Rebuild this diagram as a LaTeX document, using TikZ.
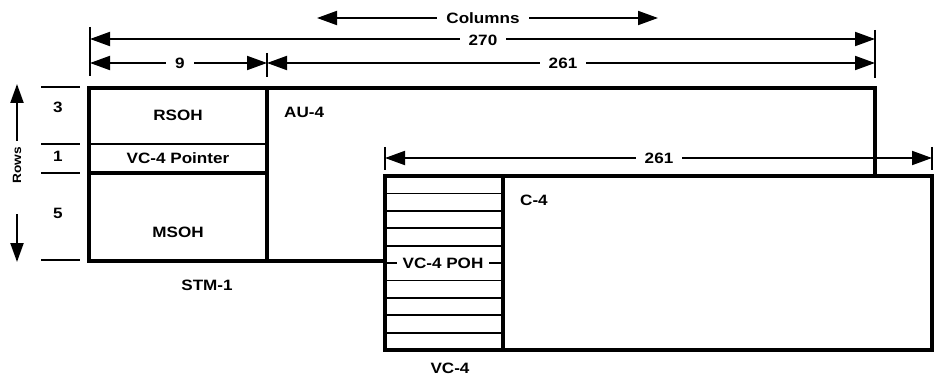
\documentclass[tikz,border=0pt]{standalone}
\usepackage{fontspec}
\setmainfont{Liberation Sans}[FakeStretch=1.14]
\usetikzlibrary{arrows.meta}
\begin{document}
\begin{tikzpicture}[x=1pt,y=-1pt,
  lbl/.style={font=\fontsize{15}{17}\selectfont\bfseries, inner sep=0pt},
  small/.style={font=\fontsize{12}{14}\selectfont\bfseries, inner sep=0pt},
  heavy/.style={line width=3.6pt, line join=miter},
  rule/.style={line width=1.8pt},
  dimline/.style={line width=1.9pt, {Triangle[length=20pt,width=14pt]}-{Triangle[length=20pt,width=14pt]}},
  uparrow/.style={line width=2.2pt, -{Triangle[length=19pt,width=13pt]}},
  tickline/.style={line width=1.9pt},
  gap/.style={lbl, fill=white, inner xsep=9pt, inner ysep=3pt}]
\useasboundingbox (0,0) rectangle (934,377);

% ---- coordinates ----
\coordinate (sTL) at (89,88);
\coordinate (sTR) at (267,88);
\coordinate (sBL) at (89,261);
\coordinate (sBR) at (267,261);
\coordinate (aTR) at (875,88);
\coordinate (aBR) at (875,176);
\coordinate (vTL) at (385,176);
\coordinate (vBR) at (932,350);
\coordinate (vJoin) at (385,261);

% ---- STM-1 frame ----
\draw[rule] (89,144) -- (267,144);
\draw[heavy] (89,173) -- (267,173);
\draw[heavy] (sTL) rectangle (sBR);

% ---- AU-4 outline ----
\draw[heavy] (sTR) -- (aTR) -- (aBR);
\draw[heavy] (sBR) -- (vJoin);

% ---- VC-4 POH rows ----
\foreach \k in {1,...,9} \draw[rule] (385,{176+\k*17.4}) -- (503,{176+\k*17.4});
\draw[heavy] (vTL) rectangle (vBR);
\draw[heavy] (503,176) -- (503,350);

% ---- row marks ----
\foreach \yy in {87,144,173,260} \draw[rule] (41,\yy) -- (80,\yy);
\node[lbl] (r3) at (58,107) {3};
\node[lbl] (r1) at (58,156) {1};
\node[lbl] (r5) at (58,213) {5};
\node[small, rotate=90] (rows) at (17,165) {Rows};
\coordinate (upBase) at (17,141);
\coordinate (upTip) at (17,84);
\coordinate (dnBase) at (17,214);
\coordinate (dnTip) at (17,262);
\draw[uparrow] (upBase) -- (upTip);
\draw[uparrow] (dnBase) -- (dnTip);

% ---- ticks ----
\coordinate (t1a) at (90,27);  \coordinate (t1b) at (90,76);
\coordinate (t2a) at (267,53); \coordinate (t2b) at (267,77);
\coordinate (t3a) at (875,30); \coordinate (t3b) at (875,78);
\coordinate (t4a) at (385,147); \coordinate (t4b) at (385,170);
\coordinate (t5a) at (932,147); \coordinate (t5b) at (932,170);
\foreach \a/\b in {t1a/t1b,t2a/t2b,t3a/t3b,t4a/t4b,t5a/t5b} \draw[tickline] (\a) -- (\b);

% ---- dimension arrows ----
\coordinate (cL) at (317,18); \coordinate (cR) at (658,18);
\draw[dimline] (cL) -- (cR);
\node[gap] (cols) at (483,18) {Columns};

\coordinate (d270L) at (90,39); \coordinate (d270R) at (875,39);
\draw[dimline] (d270L) -- (d270R);
\node[gap] (n270) at (483,40) {270};

\coordinate (d9L) at (90,63); \coordinate (d9R) at (267,63);
\draw[dimline] (d9L) -- (d9R);
\node[gap] (n9) at (180,63) {9};

\coordinate (d261L) at (267,63); \coordinate (d261R) at (875,63);
\draw[dimline] (d261L) -- (d261R);
\node[gap] (n261a) at (563,63) {261};

\coordinate (e261L) at (385,158); \coordinate (e261R) at (932,158);
\draw[dimline] (e261L) -- (e261R);
\node[gap] (n261b) at (659,158) {261};

% ---- labels ----
\node[lbl] (rsoh) at (178,115) {RSOH};
\node[lbl] (ptr) at (178,158) {VC-4 Pointer};
\node[lbl] (msoh) at (178,232) {MSOH};
\node[lbl, anchor=west] (au4) at (284,112) {AU-4};
\node[lbl, anchor=west] (c4) at (520,200) {C-4};
\node[lbl] (stm) at (207,285) {STM-1};
\node[lbl] (vc4) at (450,368) {VC-4};
\node[lbl, fill=white, inner xsep=6pt, inner ysep=3pt] (poh) at (443,263) {VC-4 POH};
\end{tikzpicture}
\end{document}
